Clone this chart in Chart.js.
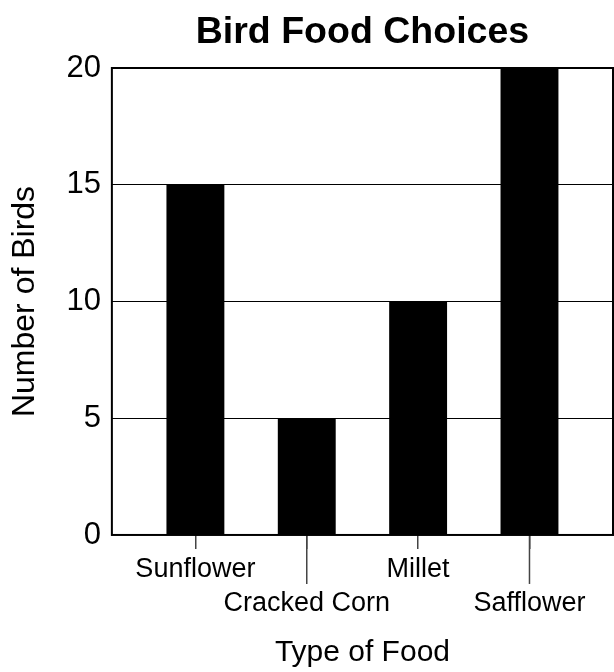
<!DOCTYPE html>
<html>
<head>
<meta charset="utf-8">
<script src="https://cdn.jsdelivr.net/npm/chart.js@4.4.0/dist/chart.umd.min.js"></script>
<style>
  html, body { margin: 0; padding: 0; background: #fff; }
  #wrap { width: 614px; height: 672px; }
</style>
</head>
<body>
<div id="wrap"><canvas id="birdChart"></canvas></div>
<script>
// food types and how many birds picked each
const foods = ['Sunflower', 'Cracked Corn', 'Millet', 'Safflower'];
const birdCounts = [15, 5, 10, 20];
const yTicks = [0, 5, 10, 15, 20];

const fontFamily = '"Liberation Sans", Arial, Helvetica, sans-serif';

// plot frame + the longer ticks under every other label
const frameAndTicks = {
    id: 'frameAndTicks',
    afterDraw(chart) {
        const ctx = chart.ctx;
        const area = chart.chartArea;
        const x = chart.scales.x;
        ctx.save();
        ctx.strokeStyle = '#444';
        ctx.lineWidth = 1.5;
        x.ticks.forEach((t, i) => {
            if (i % 2 === 1) {
                const px = x.getPixelForValue(t.value);
                ctx.beginPath();
                ctx.moveTo(px, area.bottom);
                ctx.lineTo(px, area.bottom + 49);
                ctx.stroke();
            }
        });
        ctx.strokeStyle = '#000';
        ctx.lineWidth = 2;
        ctx.strokeRect(area.left, area.top, area.right - area.left, area.bottom - area.top);
        ctx.restore();
    }
};

new Chart(document.getElementById('birdChart'), {
    type: 'bar',
    data: {
        datasets: [{
            data: birdCounts.map((v, i) => ({ x: i + 1, y: v })),
            backgroundColor: '#000',
            borderWidth: 0,
            categoryPercentage: 1,
            barPercentage: 0.52
        }]
    },
    options: {
        responsive: true,
        maintainAspectRatio: false,
        animation: false,
        layout: { padding: { left: 6, right: 1, top: 0, bottom: 1 } },
        plugins: {
            legend: { display: false },
            tooltip: { enabled: false },
            title: {
                display: true,
                fullSize: false,
                text: 'Bird Food Choices',
                color: '#000',
                font: { family: fontFamily, size: 37.5, weight: 'bold' },
                padding: { top: 10, bottom: 13 }
            }
        },
        scales: {
            x: {
                type: 'linear',
                offset: false,
                min: 0.25,
                max: 4.75,
                afterBuildTicks: axis => { axis.ticks = foods.map((f, i) => ({ value: i + 1 })); },
                grid: { offset: false, drawOnChartArea: false, tickLength: 14, color: '#444', lineWidth: 1.5 },
                border: { display: false },
                ticks: {
                    autoSkip: false,
                    maxRotation: 0,
                    padding: 4,
                    color: '#000',
                    font: { family: fontFamily, size: 27, lineHeight: 1.26 },
                    callback: (v, i) => i % 2 ? ['', foods[v - 1]] : foods[v - 1]
                },
                title: {
                    display: true,
                    text: 'Type of Food',
                    color: '#000',
                    font: { family: fontFamily, size: 30 },
                    padding: { top: 10, bottom: 0 }
                }
            },
            y: {
                min: 0,
                max: 20,
                afterBuildTicks: axis => { axis.ticks = yTicks.map(v => ({ value: v })); },
                grid: { color: '#000', lineWidth: 1, drawTicks: false },
                border: { display: false },
                ticks: {
                    padding: 11,
                    color: '#000',
                    font: { family: fontFamily, size: 31 }
                },
                title: {
                    display: true,
                    text: 'Number of Birds',
                    color: '#000',
                    font: { family: fontFamily, size: 32 },
                    padding: { top: 0, bottom: 11 }
                }
            }
        }
    },
    plugins: [frameAndTicks]
});
</script>
</body>
</html>
